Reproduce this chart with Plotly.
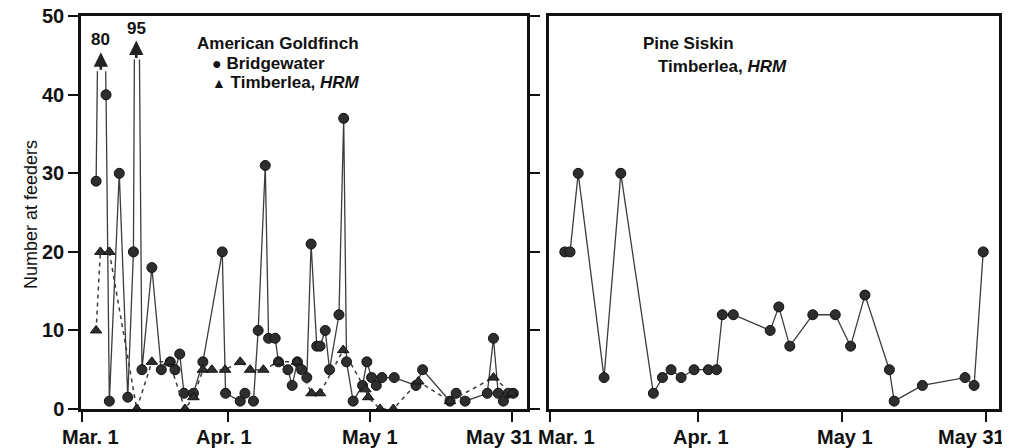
import plotly.graph_objects as go

# ---------------- data (day 0 = Mar. 1) ----------------
tick_days = [0, 31, 61, 91]
tick_labels = ["Mar. 1", "Apr. 1", "May 1", "May 31"]
y_ticks = [0, 10, 20, 30, 40, 50]

# American Goldfinch, Bridgewater (circles, solid)
bw_day = [3.0, 4.0, 5.1, 5.8, 7.9, 9.7, 10.9, 11.5, 12.7, 14.8,
          16.8, 18.7, 19.7, 20.7, 21.6, 23.6, 25.6, 29.7, 30.4, 33.5,
          34.5, 36.3, 37.3, 38.8, 39.5, 40.9, 41.6, 43.6, 44.5, 45.6,
          46.5, 47.6, 48.5, 49.7, 50.4, 51.5, 52.4, 54.4, 55.4, 56.0,
          57.4, 59.4, 60.3, 61.3, 62.3, 63.5, 66.1, 70.7, 72.1, 77.9,
          79.2, 81.1, 85.8, 87.1, 88.1, 89.2, 90.2, 91.3]
bw_val = [29, 80, 40, 1, 30, 1.5, 20, 95, 5, 18,
          5, 6, 5, 7, 2, 2, 6, 20, 2, 1,
          2, 1, 10, 31, 9, 9, 6, 5, 3, 6,
          5, 4, 21, 8, 8, 10, 5, 12, 37, 6,
          1, 3, 6, 4, 3, 4, 4, 3, 5, 1,
          2, 1, 2, 9, 2, 1, 2, 2]

# American Goldfinch, Timberlea HRM (triangles, dashed)
tl_day = [3.0, 3.9, 5.8, 11.6, 14.8, 18.5, 21.8, 23.6, 25.6, 27.5,
          30.3, 33.5, 35.6, 38.4, 41.6, 45.5, 48.6, 50.4, 55.3, 60.0,
          60.6, 63.1, 65.9, 71.2, 77.9, 87.1, 91.0]
tl_val = [10, 20, 20, 0, 6, 6, 0, 1.5, 5, 5,
          5, 6, 5, 5, 6, 6, 2, 2, 7.5, 2.5,
          1.5, 0, 0, 3.5, 1, 4, 2]

# Pine Siskin, Timberlea HRM
ps_day = [3.1, 4.2, 5.9, 11.3, 14.8, 21.6, 23.5, 25.3, 27.4, 30.1,
          33.1, 34.8, 36.0, 38.3, 46.0, 47.8, 50.1, 54.9, 59.6, 62.8,
          65.8, 70.9, 71.9, 77.8, 86.7, 88.6, 90.5]
ps_val = [20, 20, 30, 4, 30, 2, 4, 5, 4, 5,
          5, 5, 12, 12, 10, 13, 8, 12, 12, 8,
          14.5, 5, 1, 3, 4, 3, 20]

Y_MAX = 50
# level at which off-scale lines are broken (per off-scale value)
BREAK = {80: 43.0, 95: 44.5}

# the page places the figure 8 px in from the window's top-left corner
OFF = 8
W, H = 1010 - OFF, 448 - OFF
def fx(px):
    return (px - OFF) / W
def fy(py):
    return 1 - (py - OFF) / H

def broken_line(xs, ys):
    ox, oy = [], []
    for i, (x, y) in enumerate(zip(xs, ys)):
        if y <= Y_MAX:
            if i > 0 and ys[i - 1] > Y_MAX:
                x0, y0 = xs[i - 1], ys[i - 1]
                cap = BREAK[y0]
                t = (y0 - cap) / (y0 - y)
                ox += [None, x0 + (x - x0) * t]
                oy += [None, cap]
            ox.append(x)
            oy.append(y)
        else:
            x0, y0 = xs[i - 1], ys[i - 1]
            cap = BREAK[y]
            t = (cap - y0) / (y - y0)
            ox.append(x0 + (x - x0) * t)
            oy.append(cap)
    return ox, oy

LINE_C = "#3c3c3c"
MARK_C = "#2e2e2e"
TICK_FONT = dict(family="Liberation Sans", size=20, color="#111", weight="bold")

fig = go.Figure()

# Bridgewater line + markers
lx, ly = broken_line(bw_day, bw_val)
fig.add_trace(go.Scatter(x=lx, y=ly, mode="lines", line=dict(color=LINE_C, width=1.3),
                         xaxis="x", yaxis="y", showlegend=False, hoverinfo="skip"))
fig.add_trace(go.Scatter(x=[d for d, v in zip(bw_day, bw_val) if v <= Y_MAX],
                         y=[v for v in bw_val if v <= Y_MAX], mode="markers",
                         marker=dict(symbol="circle", size=10, color=MARK_C,
                                     line=dict(color="#111", width=1)),
                         cliponaxis=False, xaxis="x", yaxis="y", showlegend=False))
# Timberlea goldfinch
fig.add_trace(go.Scatter(x=tl_day, y=tl_val, mode="lines+markers",
                         line=dict(color=LINE_C, width=1.5, dash="4px,4px"),
                         marker=dict(symbol="triangle-up", size=10, color=MARK_C,
                                     line=dict(color="#111", width=1)),
                         cliponaxis=False, xaxis="x", yaxis="y", showlegend=False))
# Pine Siskin
fig.add_trace(go.Scatter(x=ps_day, y=ps_val, mode="lines+markers",
                         line=dict(color=LINE_C, width=1.3),
                         marker=dict(symbol="circle", size=10, color=MARK_C,
                                     line=dict(color="#111", width=1)),
                         cliponaxis=False, xaxis="x2", yaxis="y2", showlegend=False))

annotations = []
# off-scale arrows
for d, v in zip(bw_day, bw_val):
    if v > Y_MAX:
        cap = BREAK[v]
        annotations.append(dict(x=d, y=cap + 2.4, ax=d, ay=cap, xref="x", yref="y",
                                axref="x", ayref="y", text="", showarrow=True,
                                arrowhead=2, arrowsize=1.1, arrowwidth=2.6, arrowcolor="#222"))
        annotations.append(dict(x=d, y=cap + 2.4, xref="x", yref="y", text="<b>%d</b>" % v,
                                showarrow=False, yanchor="bottom", yshift=1,
                                font=dict(family="Liberation Sans", size=17, color="#111")))

# x tick labels (edge labels nudged inward as in the original)
left_shift = [9, -4, 0, -12]
right_shift = [17, 3, 3, -14]
for d, t, s in zip(tick_days, tick_labels, left_shift):
    annotations.append(dict(x=d, y=fy(437), xref="x", yref="paper", text=t, showarrow=False,
                            xshift=s, yanchor="middle", font=TICK_FONT))
for d, t, s in zip(tick_days, tick_labels, right_shift):
    annotations.append(dict(x=d, y=fy(437), xref="x2", yref="paper", text=t, showarrow=False,
                            xshift=s, yanchor="middle", font=TICK_FONT))

# y-axis title
annotations.append(dict(x=fx(19), y=fy(215), xref="paper", yref="paper", text="Number at feeders",
                        textangle=-90, showarrow=False,
                        font=dict(family="Liberation Sans", size=18, color="#111")))

def leg(px, py, text, size=17):
    annotations.append(dict(x=fx(px), y=fy(py), xref="paper", yref="paper", text=text,
                            showarrow=False, xanchor="left", yanchor="middle",
                            font=dict(family="Liberation Sans", size=size, color="#111")))

leg(195, 43, "<b>American Goldfinch</b>")
leg(210, 63, "<span style='font-size:16px'>●</span> <b>Bridgewater</b>")
leg(210, 83, "<span style='font-size:14px'>▲</span> <b>Timberlea, <i>HRM</i></b>")
leg(641, 43, "<b>Pine Siskin</b>")
leg(656, 66, "<b>Timberlea, <i>HRM</i></b>")

axis_common = dict(showgrid=False, zeroline=False, showline=True, linecolor="#111",
                   linewidth=2.5, automargin=False)
Y_RANGE = [0, Y_MAX + 0.03]

fig.update_layout(
    width=W, height=H, paper_bgcolor="white", plot_bgcolor="white",
    margin=dict(l=0, r=0, t=0, b=0, autoexpand=False), showlegend=False,
    xaxis=dict(domain=[fx(81), fx(527)], range=[-0.2, 94.2], tickvals=tick_days,
               showticklabels=False, ticks="outside", ticklen=10, tickwidth=1.5,
               tickcolor="#111", mirror=True, anchor="y", **axis_common),
    yaxis=dict(domain=[fy(409), fy(16)], range=Y_RANGE, tickvals=y_ticks,
               ticks="outside", ticklen=10, tickwidth=1.5, tickcolor="#111",
               ticklabeloverflow="allow",
               mirror="ticks", tickfont=TICK_FONT, anchor="x", **axis_common),
    xaxis2=dict(domain=[fx(549), fx(999)], range=[-0.2, 93.8], tickvals=tick_days,
                showticklabels=False, ticks="outside", ticklen=10, tickwidth=1.5,
                tickcolor="#111", mirror=True, anchor="y2", **axis_common),
    yaxis2=dict(domain=[fy(409), fy(16)], range=Y_RANGE, tickvals=y_ticks,
                showticklabels=False, ticks="", mirror=True, anchor="x2", **axis_common),
    annotations=annotations,
)

fig.write_html("out.html")
